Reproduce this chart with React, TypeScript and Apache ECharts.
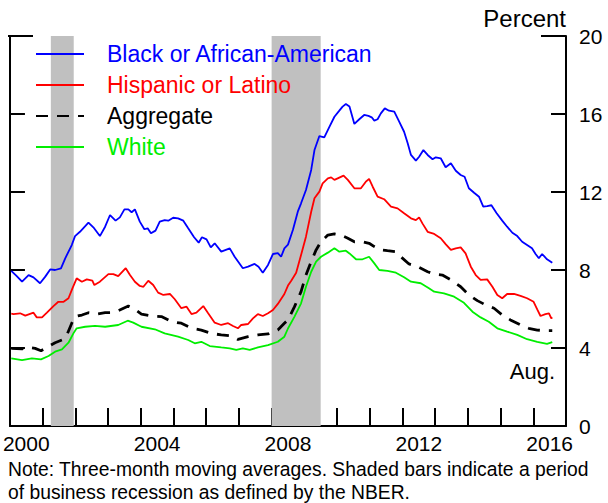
import React, { useEffect, useRef } from "react";
import * as echarts from "echarts";

const yearLabels = ["2000","2001","2002","2003","2004","2005","2006","2007","2008","2009","2010","2011","2012","2013","2014","2015","2016"];
const yTicks = [0, 4, 8, 12, 16, 20];
const recessions: [number, number][] = [[2001.25, 2001.95], [2008.0, 2009.5]];

const blackSeries: [number, number][] = [
  [2000.04,7.96],[2000.2,7.7],[2000.37,7.40],[2000.57,7.74],[2000.72,7.62],[2000.92,7.32],[2001.08,7.66],[2001.23,8.03],[2001.38,8.0],[2001.56,8.08],[2001.69,8.6],[2001.89,9.28],[2001.99,9.74],[2002.14,9.96],[2002.40,10.43],[2002.55,10.19],[2002.75,9.74],[2002.91,10.22],[2003.06,10.82],[2003.23,10.53],[2003.36,10.70],[2003.50,11.11],[2003.62,11.11],[2003.72,10.96],[2003.82,11.11],[2003.97,10.48],[2004.11,10.09],[2004.21,10.14],[2004.31,9.88],[2004.45,10.02],[2004.58,10.48],[2004.73,10.56],[2004.84,10.53],[2004.99,10.68],[2005.14,10.65],[2005.30,10.53],[2005.45,10.14],[2005.63,9.68],[2005.77,9.40],[2005.87,9.68],[2006.01,9.57],[2006.14,9.16],[2006.26,9.37],[2006.46,8.94],[2006.72,9.11],[2006.87,8.68],[2007.12,8.09],[2007.28,8.17],[2007.48,8.31],[2007.60,8.17],[2007.73,7.86],[2007.89,8.26],[2008.04,8.82],[2008.19,8.86],[2008.29,8.68],[2008.39,9.11],[2008.50,9.3],[2008.65,10.05],[2008.80,10.99],[2008.90,11.42],[2009.05,12.10],[2009.21,13.13],[2009.31,14.15],[2009.46,14.87],[2009.61,14.80],[2009.77,15.35],[2009.92,15.86],[2010.07,16.17],[2010.17,16.38],[2010.27,16.51],[2010.38,16.38],[2010.53,15.49],[2010.68,15.73],[2010.83,15.95],[2010.96,15.90],[2011.06,15.83],[2011.14,15.66],[2011.24,15.73],[2011.34,16.03],[2011.46,16.29],[2011.59,16.17],[2011.75,16.12],[2011.90,15.61],[2012.05,15.09],[2012.16,14.50],[2012.26,13.90],[2012.41,13.61],[2012.51,13.81],[2012.64,14.15],[2012.77,13.90],[2012.92,13.68],[2013.02,13.78],[2013.17,13.73],[2013.32,13.27],[2013.48,13.47],[2013.63,13.09],[2013.78,12.87],[2013.90,12.78],[2014.03,12.19],[2014.19,11.96],[2014.34,11.76],[2014.47,11.25],[2014.59,11.28],[2014.72,11.32],[2014.88,10.91],[2015.05,10.53],[2015.20,10.22],[2015.36,9.91],[2015.51,9.74],[2015.66,9.45],[2015.81,9.28],[2015.96,9.11],[2016.07,8.82],[2016.17,8.60],[2016.27,8.82],[2016.42,8.55],[2016.58,8.37]
];

const hispanicSeries: [number, number][] = [
  [2000.04,5.76],[2000.11,5.74],[2000.31,5.78],[2000.47,5.66],[2000.72,5.81],[2000.82,5.57],[2000.98,5.57],[2001.13,5.81],[2001.33,6.15],[2001.48,6.37],[2001.64,6.37],[2001.79,6.55],[2001.91,7.06],[2002.04,7.57],[2002.20,7.40],[2002.35,7.52],[2002.52,7.45],[2002.58,7.23],[2002.75,7.40],[2003.01,7.79],[2003.16,7.79],[2003.31,7.69],[2003.54,8.09],[2003.67,7.74],[2003.82,7.40],[2003.97,7.18],[2004.08,7.14],[2004.23,7.45],[2004.38,7.23],[2004.53,6.84],[2004.69,6.72],[2004.89,6.77],[2005.04,6.50],[2005.24,6.04],[2005.40,6.12],[2005.55,5.74],[2005.70,5.81],[2005.91,6.15],[2006.06,5.78],[2006.26,5.30],[2006.46,5.18],[2006.67,5.27],[2006.82,5.13],[2006.97,5.01],[2007.07,5.18],[2007.28,5.23],[2007.43,5.52],[2007.58,5.74],[2007.73,5.64],[2007.89,5.78],[2008.04,5.95],[2008.19,6.26],[2008.39,6.77],[2008.50,7.2],[2008.60,7.45],[2008.75,7.86],[2008.90,8.77],[2009.05,9.71],[2009.21,10.99],[2009.31,11.68],[2009.46,12.02],[2009.56,12.44],[2009.72,12.70],[2009.82,12.75],[2009.92,12.62],[2010.02,12.70],[2010.20,12.84],[2010.33,12.62],[2010.53,12.19],[2010.73,12.19],[2010.88,12.53],[2010.98,12.67],[2011.09,12.27],[2011.24,11.76],[2011.44,11.63],[2011.65,11.25],[2011.85,11.16],[2012.05,10.91],[2012.26,10.65],[2012.41,10.56],[2012.51,10.70],[2012.61,10.39],[2012.77,9.96],[2012.97,9.85],[2013.17,9.63],[2013.32,9.33],[2013.48,9.03],[2013.63,9.11],[2013.78,9.16],[2013.93,8.85],[2014.09,8.17],[2014.24,7.74],[2014.39,7.49],[2014.59,7.52],[2014.75,7.14],[2014.90,6.72],[2015.05,6.55],[2015.20,6.77],[2015.41,6.77],[2015.61,6.67],[2015.81,6.55],[2016.01,6.37],[2016.12,5.98],[2016.22,5.64],[2016.37,5.74],[2016.48,5.78],[2016.55,5.52],[2016.58,5.57]
];

const aggregateSeries: [number, number][] = [
  [2000.04,3.98],[2000.37,3.95],[2000.57,4.03],[2000.77,3.98],[2000.95,3.86],[2001.08,3.98],[2001.38,4.27],[2001.59,4.41],[2001.74,4.67],[2001.89,5.27],[2001.99,5.61],[2002.20,5.69],[2002.40,5.81],[2002.65,5.74],[2002.91,5.81],[2003.11,5.81],[2003.31,5.91],[2003.62,6.15],[2003.82,5.98],[2004.02,5.74],[2004.33,5.64],[2004.63,5.61],[2004.94,5.35],[2005.24,5.27],[2005.55,5.01],[2005.85,4.92],[2006.16,4.75],[2006.46,4.67],[2006.77,4.62],[2006.97,4.44],[2007.28,4.58],[2007.58,4.67],[2007.89,4.72],[2008.19,4.92],[2008.39,5.27],[2008.50,5.44],[2008.70,6.12],[2008.90,6.89],[2009.05,7.74],[2009.21,8.43],[2009.36,9.03],[2009.51,9.45],[2009.72,9.79],[2009.92,9.85],[2010.12,9.79],[2010.33,9.63],[2010.53,9.45],[2010.78,9.45],[2010.98,9.37],[2011.14,9.20],[2011.34,9.03],[2011.54,8.99],[2011.80,8.94],[2011.95,8.68],[2012.20,8.31],[2012.46,8.17],[2012.77,7.91],[2012.97,7.79],[2013.22,7.74],[2013.48,7.49],[2013.78,7.14],[2014.03,6.72],[2014.29,6.43],[2014.54,6.21],[2014.80,6.04],[2015.05,5.69],[2015.30,5.44],[2015.61,5.18],[2015.86,5.01],[2016.12,4.92],[2016.37,4.89],[2016.58,4.89]
];

const whiteSeries: [number, number][] = [
  [2000.04,3.47],[2000.37,3.38],[2000.67,3.47],[2000.95,3.42],[2001.18,3.59],[2001.38,3.81],[2001.59,3.93],[2001.79,4.27],[2001.94,4.75],[2002.04,5.01],[2002.30,5.09],[2002.60,5.13],[2002.91,5.09],[2003.31,5.18],[2003.60,5.40],[2003.77,5.30],[2004.02,5.09],[2004.43,4.96],[2004.73,4.75],[2005.14,4.58],[2005.45,4.41],[2005.65,4.24],[2005.85,4.32],[2006.11,4.10],[2006.46,4.03],[2006.72,3.98],[2006.92,3.90],[2007.12,3.98],[2007.33,3.90],[2007.58,4.03],[2007.89,4.15],[2008.19,4.32],[2008.39,4.58],[2008.50,5.0],[2008.70,5.61],[2008.90,6.29],[2009.05,7.14],[2009.21,7.91],[2009.36,8.43],[2009.51,8.68],[2009.72,8.89],[2009.92,9.11],[2010.07,8.94],[2010.27,8.99],[2010.38,8.85],[2010.58,8.55],[2010.78,8.55],[2010.98,8.68],[2011.14,8.34],[2011.29,8.00],[2011.54,7.96],[2011.80,7.86],[2012.05,7.63],[2012.26,7.40],[2012.56,7.32],[2012.81,7.06],[2012.97,6.89],[2013.27,6.80],[2013.58,6.63],[2013.88,6.32],[2014.14,5.86],[2014.39,5.57],[2014.64,5.35],[2014.90,5.01],[2015.20,4.84],[2015.51,4.67],[2015.81,4.45],[2016.12,4.32],[2016.42,4.21],[2016.58,4.30]
];

const FONT = "'Liberation Sans', Arial, Helvetica, sans-serif";

export default function App() {
  const ref = useRef<HTMLDivElement>(null);
  useEffect(() => {
    if (!ref.current) return;
    const chart = echarts.init(ref.current, undefined, { renderer: "svg" });
    const lineBase = (name: string, data: [number, number][], color: string, extra: any = {}) => ({
      name,
      type: "line",
      xAxisIndex: 1,
      yAxisIndex: 0,
      data,
      showSymbol: false,
      symbol: "none",
      z: 3,
      lineStyle: { color, width: 1.8, ...extra },
      itemStyle: { color },
    });
    const option: any = {
      animation: false,
      textStyle: { fontFamily: FONT },
      grid: { left: 8, right: 42, top: 36, bottom: 77, containLabel: false },
      legend: {
        orient: "vertical",
        left: 35,
        top: 42,
        padding: 0,
        itemWidth: 48,
        itemHeight: 14,
        itemGap: 7,
        selectedMode: false,
        itemStyle: { opacity: 0, borderWidth: 0 },
        textStyle: { fontSize: 23, fontFamily: FONT, lineHeight: 24, padding: [0, 0, 0, 18] },
        data: [
          { name: "Black or African-American", textStyle: { color: "#0000ff" } },
          { name: "Hispanic or Latino", textStyle: { color: "#ff0000" } },
          { name: "Aggregate", textStyle: { color: "#000000" } },
          { name: "White", textStyle: { color: "#00ee00" } },
        ],
      },
      xAxis: [
        {
          type: "category",
          data: yearLabels,
          boundaryGap: true,
          axisLine: { show: true, lineStyle: { color: "#000", width: 2 } },
          axisTick: { show: true, inside: true, length: 18, interval: 0, lineStyle: { color: "#000", width: 2 } },
          axisLabel: { interval: 3, color: "#000", fontSize: 21, fontFamily: FONT, margin: 7 },
          splitLine: { show: false },
        },
        {
          type: "value",
          min: 2000,
          max: 2017,
          show: false,
          splitLine: { show: false },
        },
      ],
      yAxis: [
        {
          type: "value",
          position: "left",
          min: 0,
          max: 20,
          interval: 4,
          axisLine: { show: true, lineStyle: { color: "#000", width: 2 } },
          axisTick: { show: true, inside: true, length: 15, lineStyle: { color: "#000", width: 2 } },
          axisLabel: { show: false },
          splitLine: { show: false },
        },
        {
          type: "value",
          position: "right",
          min: 0,
          max: 20,
          interval: 4,
          axisLine: { show: true, lineStyle: { color: "#000", width: 2 } },
          axisTick: { show: true, inside: true, length: 15, lineStyle: { color: "#000", width: 2 } },
          axisLabel: {
            show: true, color: "#000", fontSize: 21, fontFamily: FONT, margin: 13,
            formatter: (v: number) => (yTicks.indexOf(v) >= 0 ? String(v) : ""),
          },
          splitLine: { show: false },
        },
      ],
      series: [
        {
          name: "recessions",
          type: "line",
          xAxisIndex: 1,
          yAxisIndex: 0,
          data: [],
          z: 1,
          silent: true,
          markArea: {
            silent: true,
            itemStyle: { color: "#c0c0c0" },
            data: recessions.map(([a, b]) => [{ xAxis: a }, { xAxis: b }]),
          },
        },
        lineBase("Black or African-American", blackSeries, "#0000ff"),
        lineBase("Hispanic or Latino", hispanicSeries, "#ff0000"),
        lineBase("Aggregate", aggregateSeries, "#000000", { width: 2.8, type: [12, 9] }),
        lineBase("White", whiteSeries, "#00ee00"),
      ],
      graphic: [
        { type: "line", shape: { x1: 8, y1: 36, x2: 33, y2: 36 }, style: { stroke: "#000", lineWidth: 2 }, z: 10 },
        { type: "line", shape: { x1: 541, y1: 36, x2: 566, y2: 36 }, style: { stroke: "#000", lineWidth: 2 }, z: 10 },
        {
          type: "text", x: 566, y: 18,
          style: { text: "Percent", fill: "#000", font: `24px ${FONT}`, textAlign: "right", textVerticalAlign: "middle" },
        },
        {
          type: "text", x: 555, y: 371,
          style: { text: "Aug.", fill: "#000", font: `22px ${FONT}`, textAlign: "right", textVerticalAlign: "middle" },
        },
        {
          type: "text", x: 8, y: 469,
          style: { text: "Note: Three-month moving averages. Shaded bars indicate a period", fill: "#000", font: `19.3px ${FONT}`, textAlign: "left", textVerticalAlign: "middle" },
        },
        {
          type: "text", x: 8, y: 492,
          style: { text: "of business recession as defined by the NBER.", fill: "#000", font: `19.3px ${FONT}`, textAlign: "left", textVerticalAlign: "middle" },
        },
      ],
    };
    chart.setOption(option);
    return () => chart.dispose();
  }, []);
  return <div ref={ref} style={{ position: "fixed", left: 0, top: 0, width: 608, height: 503, background: "#fff" }} />;
}
